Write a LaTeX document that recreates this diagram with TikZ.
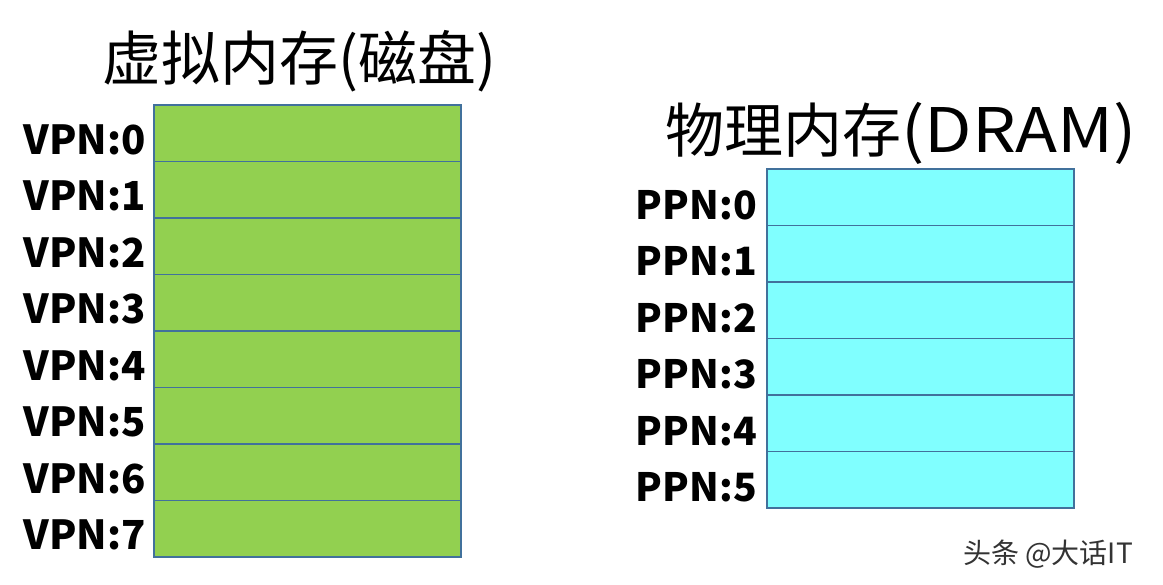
\documentclass[tikz,border=0pt]{standalone}
\usepackage{fontspec}
\usepackage{graphicx}
\setmainfont{Noto Sans CJK SC}
\definecolor{vgreen}{HTML}{92D050}
\definecolor{pcyan}{HTML}{80FFFF}
\definecolor{edgeblue}{HTML}{41719C}
\definecolor{wmgray}{HTML}{333333}
\begin{document}
\begin{tikzpicture}[x=1pt,y=-1pt,
  cell/.style={minimum width=307pt,minimum height=56.5pt,inner sep=0pt,outer sep=0pt},
  vcell/.style={cell,fill=vgreen},
  pcell/.style={cell,fill=pcyan},
  border/.style={draw=edgeblue,line width=1.8pt},
  lab/.style={anchor=base east,font=\bfseries\fontsize{40}{40}\selectfont,inner sep=0pt},
  plab/.style={lab,font=\bfseries\fontsize{39}{39}\selectfont},
  ttl/.style={anchor=base west,font=\fontsize{59}{59}\selectfont,inner sep=0pt},
  wmark/.style={anchor=base west,font=\fontsize{28}{28}\selectfont,text=wmgray,inner sep=0pt}]
\useasboundingbox (0,0) rectangle (1163,585);
\fill[white] (0,0) rectangle (1163,585);
\node[ttl] (t1) at (102,81) {虚拟内存(磁盘)};
\node[ttl] (t2) at (665,153) {物理内存\scalebox{1.17}[1.04]{(DRAM)}};
\foreach \i in {0,...,7} {
  \node[vcell] (v\i) at (307.5,{133.25+56.5*\i}) {};
  \node[lab] (vl\i) at (146,{133.25+56.5*\i+21}) {VPN:\i};
}
\foreach \i in {0,...,5} {
  \node[pcell] (p\i) at (920.5,{197.25+56.5*\i}) {};
  \node[plab] (pl\i) at (757,{197.25+56.5*\i+22}) {PPN:\i};
}
\foreach \i in {0,...,7} { \draw[border] (v\i.north west) rectangle (v\i.south east); }
\foreach \i in {0,...,5} { \draw[border] (p\i.north west) rectangle (p\i.south east); }
\node[wmark] (wm) at (963,563) {头条 @大话IT};
\end{tikzpicture}
\end{document}
